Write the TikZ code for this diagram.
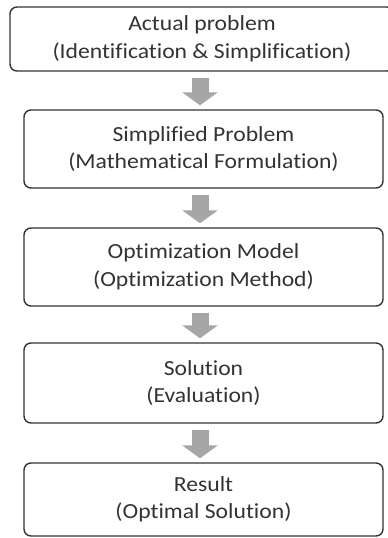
\documentclass[tikz,border=0pt]{standalone}
\usepackage{fontspec}
\setmainfont{Carlito}[FakeStretch=1.1, Ligatures=NoCommon]
\usetikzlibrary{positioning, arrows.meta}

\begin{document}
\begin{tikzpicture}[x=1pt, y=1pt,
    stage/.style={draw=black!80, line width=1.4pt, rounded corners=7pt, fill=white,
        align=center, inner sep=0pt, font=\fontsize{21.5}{27.5}\selectfont, text=black!80},
    flow/.style={draw=black!35, line width=17pt, -{Triangle[width=35pt, length=13pt]},
        shorten <=6pt, shorten >=4pt}]
    % Canvas: 388 x 538
    \useasboundingbox (0,0) rectangle (388,-538);

    % Stages, top to bottom
    \node[stage, minimum width=384pt, minimum height=64pt] (actual) at (202,-39) {Actual problem\\(Identification \& Simplification)};
    \node[stage, minimum width=359pt, minimum height=78pt] (simplified) at (203.5,-149) {Simplified Problem\\(Mathematical Formulation)};
    \node[stage, minimum width=359pt, minimum height=78pt] (model) at (203.5,-267) {Optimization Model\\(Optimization Method)};
    \node[stage, minimum width=359pt, minimum height=80pt] (solution) at (203.5,-383) {Solution\\(Evaluation)};
    \node[stage, minimum width=359pt, minimum height=73pt] (result) at (203.5,-499.5) {Result\\(Optimal Solution)};

    % Gray block arrows
    \coordinate (a1) at (200,0);
    \draw[flow] (actual.south -| a1) -- (simplified.north -| a1);
    \draw[flow] (simplified.south -| a1) -- (model.north -| a1);
    \draw[flow] (model.south -| a1) -- (solution.north -| a1);
    \draw[flow] (solution.south -| a1) -- (result.north -| a1);

\end{tikzpicture}
\end{document}
